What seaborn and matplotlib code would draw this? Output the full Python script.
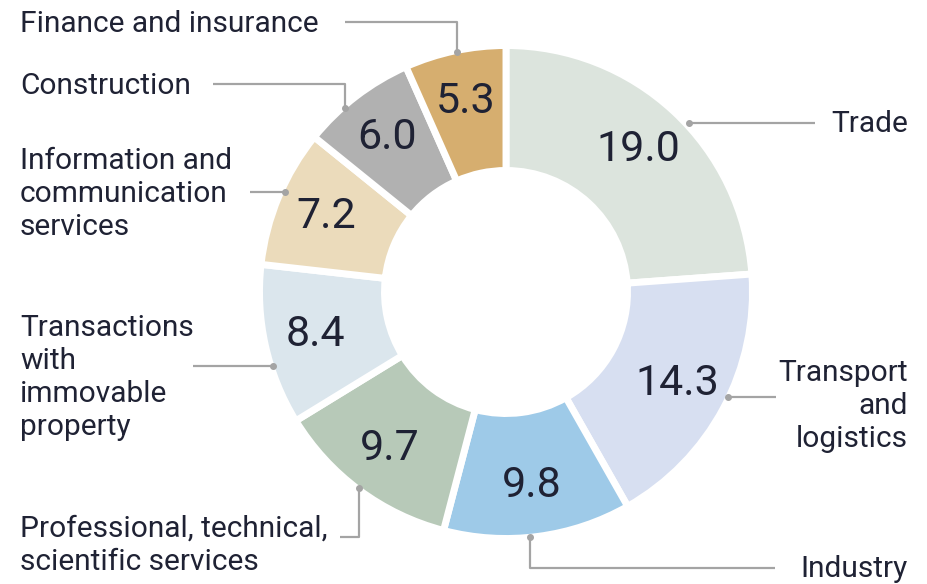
import matplotlib
matplotlib.use("Agg")
import matplotlib.pyplot as plt
import seaborn as sns
import math

# ---- data ----
categories = ["Trade", "Transport\nand\nlogistics", "Industry",
              "Professional, technical,\nscientific services",
              "Transactions\nwith\nimmovable\nproperty",
              "Information and\ncommunication\nservices",
              "Construction", "Finance and insurance"]
values = [19.0, 14.3, 9.8, 9.7, 8.4, 7.2, 6.0, 5.3]
colors_hex = ["#dce4dd", "#d7dff1", "#9ecae8", "#b7c9b8",
              "#dbe6ed", "#ebdbbb", "#b1b1b1", "#d6ae6f"]

# ---- layout (pixel positions, y from top) ----
W, H = 928, 584
CX, CY, R_OUT, RING = 506, 292, 246.5, 125
# label: (x, last-line baseline y, ha)
label_pos = [(908, 132, "right"), (908, 447, "right"), (908, 577, "right"),
             (20, 570, "left"), (20, 435, "left"), (20, 235, "left"),
             (20, 94, "left"), (20, 32, "left")]
leader_lines = [
    [(815, 123), (689, 123)],
    [(776, 397), (728, 397)],
    [(775, 568), (530, 568), (530, 537)],
    [(340, 537), (359, 537), (359, 488)],
    [(193, 366), (273, 366)],
    [(250, 192), (285, 192)],
    [(213, 84), (345, 84), (345, 108)],
    [(345, 22), (457, 22), (457, 52)],
]

sns.set_theme(style="white")
plt.rcParams["font.family"] = ["Roboto", "DejaVu Sans"]
TEXT = "#1f2234"
LINE = "#a4a4a4"

palette = sns.color_palette(colors_hex)
total = sum(values)

fig = plt.figure(figsize=(W / 100, H / 100), dpi=100)
ax = fig.add_axes([0, 0, 1, 1])

ax.pie(
    values, colors=palette, startangle=90, counterclock=False,
    radius=R_OUT, center=(CX, H - CY),
    wedgeprops=dict(width=RING, edgecolor="white", linewidth=5),
)

# value labels at the middle of each ring segment
cum = 0.0
for v in values:
    mid = (cum + v / 2) / total * 360.0
    ang = math.radians(90 - mid)
    rr = 0.79 * R_OUT
    ax.text(CX + rr * math.cos(ang), H - CY + rr * math.sin(ang),
            f"{v:.1f}", ha="center", va="center", fontsize=31,
            color=TEXT)
    cum += v

for (x, y, ha), lab in zip(label_pos, categories):
    ax.text(x, H - y, lab, ha=ha, va="baseline", fontsize=21.5,
            color=TEXT, linespacing=1.23, multialignment=ha)

for pts in leader_lines:
    xs = [p[0] for p in pts]
    ys = [H - p[1] for p in pts]
    ax.plot(xs, ys, color=LINE, lw=1.6, solid_capstyle="butt")
    ax.plot(xs[-1], ys[-1], "o", color=LINE, ms=4)

ax.set_xlim(0, W)
ax.set_ylim(0, H)
ax.set_aspect("equal")
ax.axis("off")
fig.savefig("out.png", dpi=100)
